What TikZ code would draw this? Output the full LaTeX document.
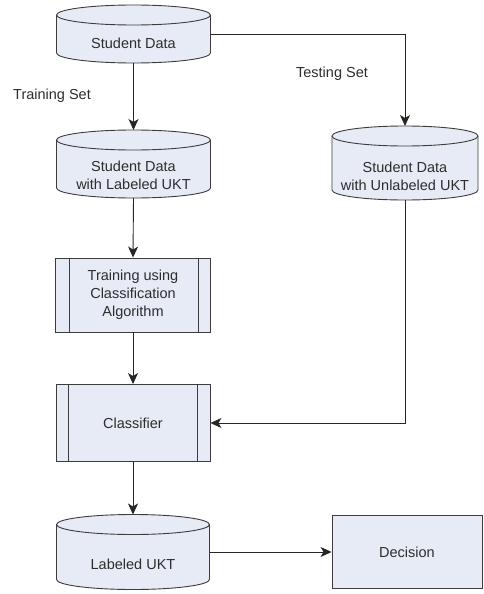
\documentclass[tikz,border=0pt]{standalone}
\usepackage{fontspec}
\setmainfont{Liberation Sans}
\usetikzlibrary{arrows.meta}
\definecolor{boxfill}{RGB}{230,235,246}
\definecolor{boxline}{RGB}{60,60,60}
\definecolor{txt}{RGB}{45,45,45}
% data store outline round a frame node: #1 node name, #2 half width (pt)
\def\datacyl#1#2{%
  \draw[boxline, fill=boxfill, line width=0.9pt] ([yshift=-10pt]#1.north west) -- ([yshift=10pt]#1.south west)
      arc (180:360:#2pt and 10pt) -- ([yshift=-10pt]#1.north east) arc (0:180:#2pt and 10pt) -- cycle;
  \draw[boxline, line width=0.9pt] ([yshift=-10pt]#1.north west) arc (180:360:#2pt and 10pt);}

\begin{document}
\begin{tikzpicture}[x=1pt,y=-1pt,
    font=\fontsize{14.5}{18}\selectfont, text=txt,
    dataframe/.style={rectangle, inner sep=0pt, outer sep=0pt},
    procbox/.style={rectangle, draw=boxline, fill=boxfill, line width=0.9pt, align=center, inner sep=0pt},
    flow/.style={line width=0.9pt, draw=black!85, -{Stealth[length=11pt,width=10pt,inset=3pt]}}]
			%%%%% START %%%%%
			
			\useasboundingbox (0,0) rectangle (484,594);
			
			\node[dataframe, minimum width=154, minimum height=58] (sd) at (133.5,34) {};
			\datacyl{sd}{77}
			\node[align=center] (sdtxt) at ([yshift=-9]sd.center) {Student Data};
			
			\node[dataframe, minimum width=154, minimum height=68] (lab) at (133.5,164) {};
			\datacyl{lab}{77}
			\node[align=center] (labtxt) at ([yshift=-11]lab.center) {Student Data\\with Labeled UKT};
			
			\node[dataframe, minimum width=146, minimum height=74] (unl) at (405,163) {};
			\datacyl{unl}{73}
			\node[align=center] (unltxt) at ([yshift=-13]unl.center) {Student Data\\with Unlabeled UKT};
			
			\node[procbox, minimum width=155, minimum height=74] (train) at (133,295) {Training using\\Classification\\Algorithm};
			\draw[boxline, line width=0.9pt] ([xshift=14]train.north west) -- ([xshift=14]train.south west);
			\draw[boxline, line width=0.9pt] ([xshift=-13]train.north east) -- ([xshift=-13]train.south east);
			
			\node[procbox, minimum width=154, minimum height=77] (clf) at (133,423) {Classifier};
			\draw[boxline, line width=0.9pt] ([xshift=13]clf.north west) -- ([xshift=13]clf.south west);
			\draw[boxline, line width=0.9pt] ([xshift=-13]clf.north east) -- ([xshift=-13]clf.south east);
			
			\node[dataframe, minimum width=153, minimum height=75] (lukt) at (133,552) {};
			\datacyl{lukt}{76.5}
			\node (lukttxt) at ([yshift=-12]lukt.center) {Labeled UKT};
			
			\node[procbox, minimum width=150, minimum height=73] (dec) at (407,552) {Decision};
			
			\node (trainset) at (52,96) {Training Set};
			\node (testset) at (332,74) {Testing Set};
			
			\coordinate (turn1) at (unl.north |- sd.east);
			\coordinate (turn2) at (unl.south |- clf.east);
			
			\draw[flow] (sd.south) -- (lab.north);
			\draw[flow] (sd.east) -- (turn1) -- (unl.north);
			\draw[flow] (lab.south) -- (train.north);
			\draw[flow] (train.south) -- (clf.north);
			\draw[flow] (unl.south) -- (turn2) -- (clf.east);
			\draw[flow] (clf.south) -- (lukt.north);
			\draw[flow] (lukt.east) -- (dec.west);
			
			%%%%% END %%%%%
\end{tikzpicture}
\end{document}
